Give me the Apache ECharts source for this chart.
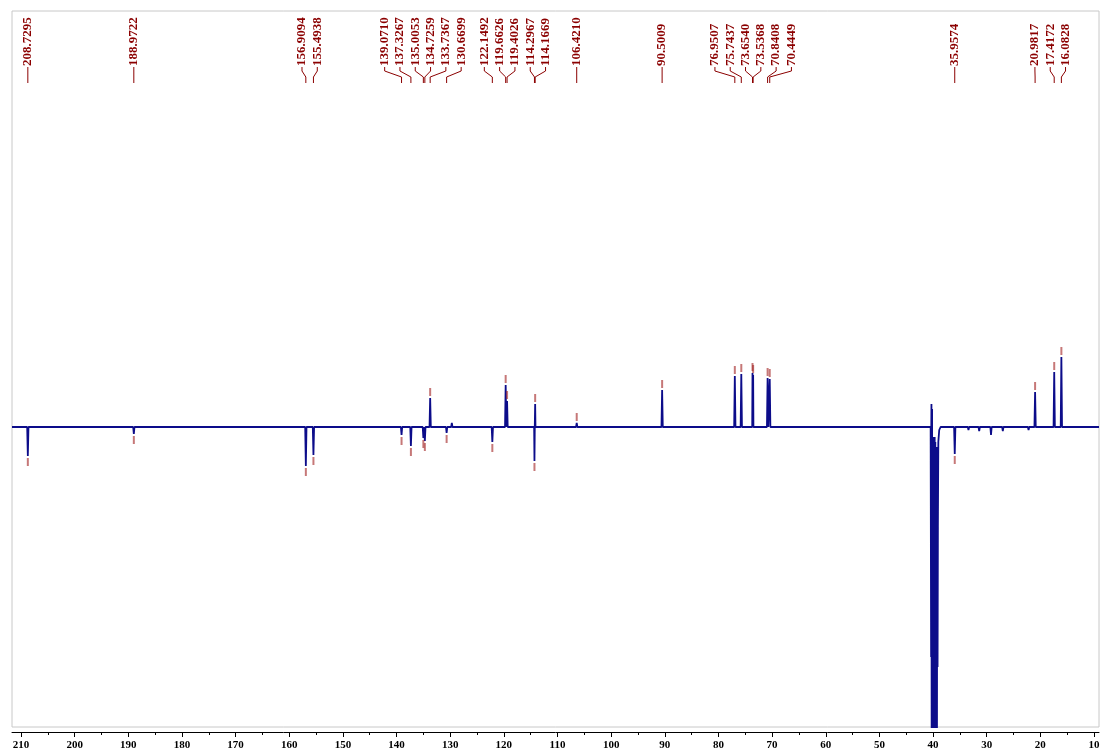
<!DOCTYPE html>
<html>
<head>
<meta charset="utf-8">
<script src="https://cdn.jsdelivr.net/npm/echarts@6/dist/echarts.min.js"></script>
<style>
    html, body {margin: 0; padding: 0; background: #fff;}
    #chart {width: 1101px; height: 754px;}
</style>
</head>
<body>
<div id="chart"></div>
<script>
// axis range (ppm)
const xMin = 9.07;
const xMax = 211.68;
const tickLabels = [210, 200, 190, 180, 170, 160, 150, 140, 130, 120, 110, 100, 90, 80, 70, 60, 50, 40, 30, 20, 10];
const minorTicks = [205, 195, 185, 175, 165, 155, 145, 135, 125, 115, 105, 95, 85, 75, 65, 55, 45, 35, 25, 15];

// picked peaks: shift (ppm) and signed height
const peakPpm = [208.7295, 188.9722, 156.9094, 155.4938, 139.0710, 137.3267, 135.0053, 134.7259, 133.7367, 130.6699,
    122.1492, 119.6626, 119.4026, 114.2967, 114.1669, 106.4210, 90.5009, 76.9507, 75.7437, 73.6540,
    73.5368, 70.8408, 70.4449, 35.9574, 20.9817, 17.4172, 16.0828];
const peakHeight = [-29, -7, -39, -28, -8, -19, -11, -14, 29, -6,
    -15, 42, 26, -34, 23, 4, 37, 51, 53, 54,
    52, 49, 48, -27, 35, 55, 70];

// small unpicked signals
const minorPpm = [129.7, 33.4, 31.4, 29.2, 27.0, 22.2];
const minorHeight = [4, -3, -4, -8, -4, -3];

// DMSO multiplet
const solventPpm = [40.45, 40.36, 40.33, 40.3, 40.26, 40.22, 40.18, 40.12, 40.07, 40.0, 39.94, 39.88, 39.82, 39.76, 39.7,
    39.64, 39.58, 39.52, 39.46, 39.4, 39.34, 39.28, 39.22, 39.16, 39.1, 39.02, 38.85, 38.6];
const solventHeight = [0, -230, 0, 23, -340, -5, 18, -340, -10, -340, -10, -340, -10, -340, -10,
    -340, -15, -340, -20, -340, -20, -340, -30, -240, -100, -15, -3, 0];

const RED = '#8b0000';
const BLUE = '#0c0c8a';

function buildSpectrum() {
    const pts = [[xMax, 0], [xMin, 0]];
    const all = peakPpm.map((p, i) => [p, peakHeight[i]])
        .concat(minorPpm.map((p, i) => [p, minorHeight[i]]));
    all.sort((a, b) => b[0] - a[0]);
    all.forEach((pk, i) => {
        const prev = i > 0 ? all[i - 1][0] - pk[0] : 1;
        const next = i < all.length - 1 ? pk[0] - all[i + 1][0] : 1;
        const w = Math.min(0.12, prev / 2.2, next / 2.2);
        pts.push([pk[0] + w, 0], [pk[0], pk[1]], [pk[0] - w, 0]);
    });
    solventPpm.forEach((p, i) => pts.push([p, solventHeight[i]]));
    pts.sort((a, b) => b[0] - a[0]);
    return pts;
}

// push labels apart, keeping each cluster centred on its peaks
function spread(xs, gap) {
    const order = xs.map((x, i) => i).sort((a, b) => xs[a] - xs[b]);
    const blocks = [];
    const startOf = b => {
        let s = 0;
        b.forEach((i, k) => { s += xs[i] - k * gap; });
        return s / b.length;
    };
    order.forEach(i => {
        blocks.push([i]);
        while (blocks.length > 1) {
            const b = blocks[blocks.length - 1];
            const a = blocks[blocks.length - 2];
            if (startOf(a) + a.length * gap > startOf(b)) {
                blocks.splice(blocks.length - 2, 2, a.concat(b));
            } else {
                break;
            }
        }
    });
    const out = [];
    blocks.forEach(b => {
        const s = startOf(b);
        b.forEach((i, k) => { out[i] = s + k * gap; });
    });
    return out;
}

let labelX = null;
let peakX = null;

function renderLabel(params, api) {
    if (!labelX) {
        peakX = peakPpm.map(p => api.coord([p, 0])[0]);
        labelX = spread(peakX, 15.3);
    }
    const i = params.dataIndex;
    const lx = labelX[i];
    const px = peakX[i];
    return {
        type: 'group',
        children: [
            {
                type: 'text',
                x: lx,
                y: 66,
                rotation: Math.PI / 2,
                style: {
                    text: peakPpm[i].toFixed(4),
                    fill: RED,
                    font: 'bold 13px "Liberation Serif"',
                    align: 'left',
                    verticalAlign: 'middle'
                }
            },
            {
                type: 'polyline',
                shape: {points: [[lx, 67], [lx, 71], [px, 77], [px, 83]]},
                style: {stroke: RED, lineWidth: 1, fill: null}
            }
        ]
    };
}

const chart = echarts.init(document.getElementById('chart'));
chart.setOption({
    animation: false,
    backgroundColor: '#fff',
    grid: {
        left: 12,
        right: 2,
        top: 11,
        bottom: 27,
        show: true,
        borderColor: '#c8c8c8',
        borderWidth: 1,
        outerBoundsMode: 'none'
    },
    xAxis: [
        {
            type: 'value',
            inverse: true,
            min: xMin,
            max: xMax,
            position: 'bottom',
            offset: 5,
            axisLine: {onZero: false, lineStyle: {color: '#000', width: 1}},
            axisTick: {customValues: tickLabels, length: 5, lineStyle: {color: '#000'}},
            axisLabel: {
                customValues: tickLabels,
                margin: 8,
                color: '#000',
                fontFamily: 'Liberation Serif',
                fontWeight: 'bold',
                fontSize: 11
            },
            splitLine: {show: false}
        },
        {
            type: 'value',
            inverse: true,
            min: xMin,
            max: xMax,
            position: 'bottom',
            offset: 5,
            axisLine: {show: false, onZero: false},
            axisTick: {customValues: minorTicks, length: 3, lineStyle: {color: '#000'}},
            axisLabel: {show: false},
            splitLine: {show: false}
        }
    ],
    yAxis: {
        type: 'value',
        min: -300,
        max: 416,
        show: false
    },
    series: [
        {
            type: 'line',
            data: buildSpectrum(),
            showSymbol: false,
            clip: true,
            lineStyle: {color: BLUE, width: 1.8},
            z: 2
        },
        {
            type: 'scatter',
            data: peakPpm.map((p, i) => [p, peakHeight[i] + (peakHeight[i] > 0 ? 6 : -6)]),
            symbol: 'rect',
            symbolSize: [2, 8],
            itemStyle: {color: 'rgba(160, 30, 30, 0.75)'},
            z: 3
        },
        {
            type: 'custom',
            data: peakPpm.map(p => [p, 0]),
            renderItem: renderLabel,
            z: 4
        }
    ]
});
</script>
</body>
</html>
